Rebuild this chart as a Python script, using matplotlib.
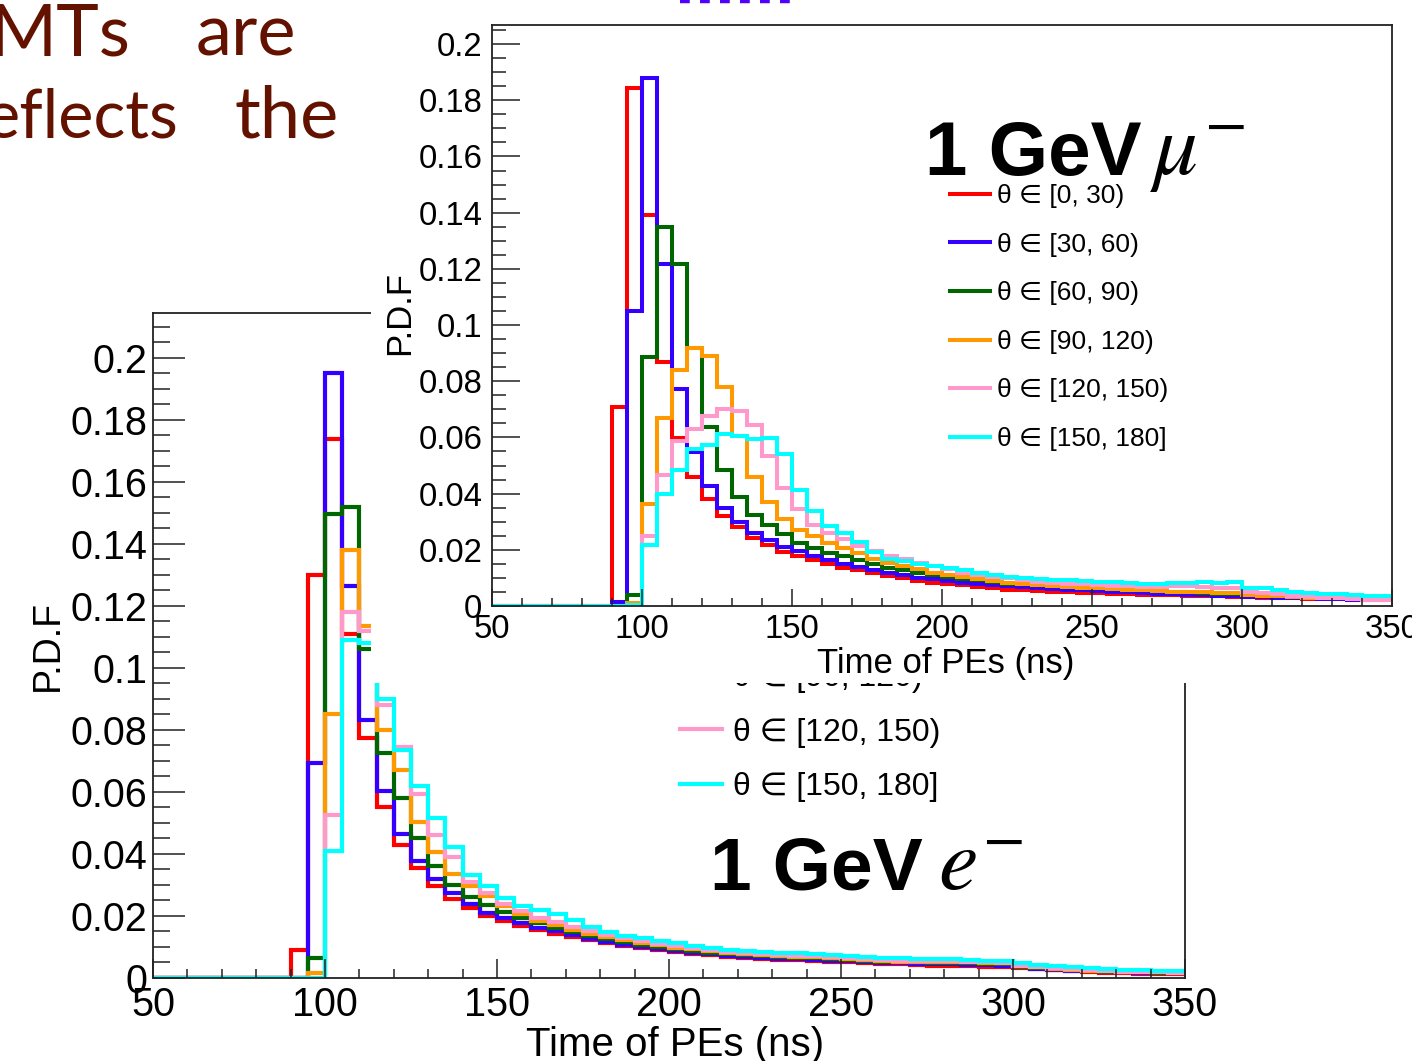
import matplotlib
matplotlib.use('Agg')
import matplotlib.pyplot as plt
import numpy as np
from matplotlib.patches import Rectangle
from matplotlib.lines import Line2D
from matplotlib.ticker import MultipleLocator, FuncFormatter

# --- data: P.D.F of PE times, 5 ns bins, bins 50-90 ns are empty ---
edges = np.arange(50, 355, 5)
first_bin = 90

labels = ['θ ∈ [0, 30)', 'θ ∈ [30, 60)', 'θ ∈ [60, 90)',
          'θ ∈ [90, 120)', 'θ ∈ [120, 150)', 'θ ∈ [150, 180]']
colors = ['#ff0000', '#3300ff', '#006600', '#ff9900', '#ff99cc', '#00ffff']

# 1 GeV mu-  (bins 90-95 ... 345-350)
mu_0_30 = [0.0707, 0.1842, 0.1392, 0.0867, 0.0599, 0.0459, 0.0382, 0.0319, 0.0280, 0.0242,
           0.0217, 0.0193, 0.0177, 0.0162, 0.0148, 0.0136, 0.0127, 0.0116, 0.0106, 0.0098,
           0.0089, 0.0083, 0.0077, 0.0073, 0.0067, 0.0063, 0.0058, 0.0056, 0.0053, 0.0051,
           0.0049, 0.0047, 0.0045, 0.0044, 0.0041, 0.0040, 0.0039, 0.0038, 0.0037, 0.0035,
           0.0034, 0.0033, 0.0031, 0.0030, 0.0028, 0.0027, 0.0026, 0.0025, 0.0024, 0.0022,
           0.0021, 0.0020]
mu_30_60 = [0.0015, 0.1050, 0.1880, 0.1217, 0.0771, 0.0548, 0.0427, 0.0350, 0.0300, 0.0260,
            0.0236, 0.0210, 0.0195, 0.0177, 0.0162, 0.0150, 0.0138, 0.0128, 0.0118, 0.0110,
            0.0101, 0.0095, 0.0089, 0.0083, 0.0077, 0.0073, 0.0070, 0.0066, 0.0063, 0.0060,
            0.0058, 0.0056, 0.0053, 0.0051, 0.0049, 0.0046, 0.0044, 0.0041, 0.0039, 0.0038,
            0.0037, 0.0035, 0.0033, 0.0032, 0.0030, 0.0028, 0.0027, 0.0025, 0.0024, 0.0022,
            0.0021, 0.0020]
mu_60_90 = [0.0, 0.0038, 0.0886, 0.1350, 0.1217, 0.0918, 0.0637, 0.0484, 0.0389, 0.0325,
            0.0287, 0.0255, 0.0225, 0.0205, 0.0189, 0.0177, 0.0162, 0.0148, 0.0136, 0.0127,
            0.0118, 0.0110, 0.0103, 0.0097, 0.0091, 0.0085, 0.0080, 0.0077, 0.0073, 0.0070,
            0.0067, 0.0065, 0.0063, 0.0060, 0.0058, 0.0056, 0.0053, 0.0051, 0.0049, 0.0046,
            0.0044, 0.0043, 0.0039, 0.0037, 0.0034, 0.0032, 0.0031, 0.0030, 0.0028, 0.0027,
            0.0026, 0.0025]
mu_90_120 = [0.0, 0.0010, 0.0363, 0.0670, 0.0840, 0.0918, 0.0890, 0.0778, 0.0605, 0.0459,
             0.0370, 0.0310, 0.0272, 0.0248, 0.0225, 0.0207, 0.0189, 0.0169, 0.0154, 0.0142,
             0.0130, 0.0118, 0.0110, 0.0103, 0.0095, 0.0089, 0.0083, 0.0079, 0.0075, 0.0071,
             0.0069, 0.0065, 0.0063, 0.0060, 0.0058, 0.0056, 0.0053, 0.0051, 0.0050, 0.0049,
             0.0046, 0.0045, 0.0039, 0.0037, 0.0034, 0.0032, 0.0030, 0.0028, 0.0027, 0.0026,
             0.0025, 0.0024]
mu_120_150 = [0.0, 0.0005, 0.0249, 0.0465, 0.0586, 0.0631, 0.0676, 0.0701, 0.0695, 0.0644,
              0.0535, 0.0420, 0.0344, 0.0290, 0.0260, 0.0237, 0.0213, 0.0195, 0.0177, 0.0166,
              0.0154, 0.0142, 0.0130, 0.0118, 0.0112, 0.0103, 0.0098, 0.0091, 0.0086, 0.0083,
              0.0079, 0.0077, 0.0075, 0.0072, 0.0070, 0.0067, 0.0067, 0.0071, 0.0071, 0.0067,
              0.0063, 0.0063, 0.0051, 0.0046, 0.0041, 0.0037, 0.0032, 0.0030, 0.0027, 0.0024,
              0.0022, 0.0020]
mu_150_180 = [0.0, 0.0003, 0.0217, 0.0400, 0.0484, 0.0560, 0.0574, 0.0612, 0.0605, 0.0593,
              0.0599, 0.0540, 0.0414, 0.0337, 0.0284, 0.0260, 0.0228, 0.0193, 0.0169, 0.0160,
              0.0150, 0.0142, 0.0136, 0.0127, 0.0118, 0.0110, 0.0103, 0.0101, 0.0096, 0.0093,
              0.0091, 0.0089, 0.0086, 0.0084, 0.0082, 0.0079, 0.0077, 0.0082, 0.0083, 0.0084,
              0.0083, 0.0085, 0.0065, 0.0063, 0.0056, 0.0051, 0.0047, 0.0044, 0.0041, 0.0039,
              0.0037, 0.0034]

# 1 GeV e-  (bins 90-95 ... 345-350)
e_0_30 = [0.0090, 0.1300, 0.1737, 0.1110, 0.0775, 0.0550, 0.0430, 0.0355, 0.0297, 0.0256,
          0.0227, 0.0200, 0.0183, 0.0168, 0.0155, 0.0143, 0.0132, 0.0122, 0.0112, 0.0104,
          0.0096, 0.0089, 0.0083, 0.0078, 0.0073, 0.0068, 0.0064, 0.0061, 0.0059, 0.0057,
          0.0055, 0.0053, 0.0051, 0.0049, 0.0046, 0.0044, 0.0041, 0.0040, 0.0039, 0.0038,
          0.0036, 0.0035, 0.0031, 0.0028, 0.0026, 0.0024, 0.0020, 0.0016, 0.0015, 0.0014,
          0.0013, 0.0013]
e_30_60 = [0.0, 0.0694, 0.1950, 0.1265, 0.0832, 0.0602, 0.0465, 0.0377, 0.0320, 0.0274,
           0.0239, 0.0210, 0.0192, 0.0176, 0.0162, 0.0150, 0.0138, 0.0127, 0.0117, 0.0108,
           0.0100, 0.0093, 0.0087, 0.0081, 0.0076, 0.0071, 0.0067, 0.0064, 0.0062, 0.0060,
           0.0058, 0.0056, 0.0054, 0.0052, 0.0049, 0.0047, 0.0046, 0.0045, 0.0044, 0.0043,
           0.0041, 0.0040, 0.0034, 0.0030, 0.0027, 0.0024, 0.0021, 0.0019, 0.0018, 0.0017,
           0.0016, 0.0015]
e_60_90 = [0.0, 0.0065, 0.1498, 0.1520, 0.1060, 0.0725, 0.0580, 0.0450, 0.0360, 0.0300,
           0.0260, 0.0235, 0.0212, 0.0192, 0.0176, 0.0160, 0.0148, 0.0136, 0.0126, 0.0116,
           0.0108, 0.0100, 0.0093, 0.0087, 0.0082, 0.0077, 0.0073, 0.0070, 0.0068, 0.0066,
           0.0064, 0.0061, 0.0058, 0.0056, 0.0053, 0.0051, 0.0050, 0.0049, 0.0048, 0.0047,
           0.0045, 0.0044, 0.0036, 0.0032, 0.0028, 0.0025, 0.0022, 0.0020, 0.0019, 0.0018,
           0.0017, 0.0016]
e_90_120 = [0.0, 0.0015, 0.0853, 0.1380, 0.1135, 0.0800, 0.0670, 0.0504, 0.0406, 0.0337,
            0.0297, 0.0265, 0.0232, 0.0208, 0.0185, 0.0170, 0.0156, 0.0143, 0.0132, 0.0122,
            0.0113, 0.0105, 0.0098, 0.0092, 0.0086, 0.0081, 0.0077, 0.0073, 0.0071, 0.0069,
            0.0067, 0.0064, 0.0061, 0.0059, 0.0056, 0.0053, 0.0052, 0.0052, 0.0051, 0.0050,
            0.0049, 0.0048, 0.0038, 0.0034, 0.0030, 0.0027, 0.0024, 0.0022, 0.0020, 0.0019,
            0.0018, 0.0017]
e_120_150 = [0.0, 0.0, 0.0527, 0.1180, 0.1120, 0.0880, 0.0745, 0.0595, 0.0460, 0.0390,
             0.0310, 0.0275, 0.0240, 0.0215, 0.0195, 0.0180, 0.0165, 0.0150, 0.0138, 0.0128,
             0.0119, 0.0110, 0.0103, 0.0097, 0.0090, 0.0085, 0.0080, 0.0077, 0.0074, 0.0072,
             0.0070, 0.0067, 0.0065, 0.0062, 0.0058, 0.0055, 0.0055, 0.0056, 0.0055, 0.0053,
             0.0050, 0.0048, 0.0038, 0.0035, 0.0031, 0.0028, 0.0025, 0.0022, 0.0020, 0.0019,
             0.0018, 0.0017]
e_150_180 = [0.0, 0.0, 0.0410, 0.1090, 0.1080, 0.0900, 0.0735, 0.0620, 0.0516, 0.0423,
             0.0332, 0.0298, 0.0257, 0.0233, 0.0219, 0.0208, 0.0186, 0.0164, 0.0148, 0.0137,
             0.0128, 0.0120, 0.0113, 0.0104, 0.0096, 0.0091, 0.0087, 0.0084, 0.0082, 0.0080,
             0.0077, 0.0074, 0.0071, 0.0068, 0.0066, 0.0063, 0.0062, 0.0062, 0.0060, 0.0058,
             0.0056, 0.0055, 0.0047, 0.0043, 0.0038, 0.0035, 0.0032, 0.0028, 0.0026, 0.0025,
             0.0023, 0.0022]

mu_series = [mu_0_30, mu_30_60, mu_60_90, mu_90_120, mu_120_150, mu_150_180]
e_series = [e_0_30, e_30_60, e_60_90, e_90_120, e_120_150, e_150_180]

plt.rcParams['font.family'] = ['Liberation Sans', 'DejaVu Sans']
plt.rcParams['mathtext.fontset'] = 'stix'

W, H = 1412, 1061
fig = plt.figure(figsize=(W / 100, H / 100), dpi=100)


def px_box(left, top, right, bottom):
    return [left / W, 1 - bottom / H, (right - left) / W, (bottom - top) / H]


def draw_hists(ax, series, lw):
    n_empty = (first_bin - edges[0]) // 5
    for vals, col, lab in zip(series, colors, labels):
        full = np.concatenate([np.zeros(n_empty), vals])
        ax.stairs(full, edges, color=col, lw=lw, label=lab, baseline=None)


def style_axes(ax, ymax, fs, ymaj, ymin, xmaj, xmin, ypad, xpad):
    ax.set_xlim(50, 350)
    ax.set_ylim(0, ymax)
    ax.xaxis.set_major_locator(MultipleLocator(50))
    ax.xaxis.set_minor_locator(MultipleLocator(10))
    ax.yaxis.set_major_locator(MultipleLocator(0.02))
    ax.yaxis.set_minor_locator(MultipleLocator(0.005))
    ax.yaxis.set_major_formatter(FuncFormatter(lambda v, p: '%g' % round(v, 4)))
    ax.xaxis.set_major_formatter(FuncFormatter(lambda v, p: '%g' % v))
    ax.tick_params(which='both', direction='in', top=False, right=False,
                   color='#222222', width=1.1)
    ax.tick_params(axis='y', which='major', length=ymaj, labelsize=fs, pad=ypad)
    ax.tick_params(axis='y', which='minor', length=ymin)
    ax.tick_params(axis='x', which='major', length=xmaj, labelsize=fs, pad=xpad)
    ax.tick_params(axis='x', which='minor', length=xmin)
    for s in ax.spines.values():
        s.set_linewidth(1.3)
        s.set_color('#222222')


# lower panel: 1 GeV e-
ax_e = fig.add_axes(px_box(153, 313, 1185, 978))
ax_e.set_zorder(1)
draw_hists(ax_e, e_series, 3.0)
style_axes(ax_e, 0.2145, 28.5, 23, 12, 14, 6.5, 4, 6)
ax_e.legend(loc='upper left', bbox_to_anchor=(0.5107, 0.722), frameon=False,
            fontsize=23, handlelength=1.32, handletextpad=0.34, labelspacing=0.78,
            borderaxespad=0, borderpad=0)
fig.text(48 / W, 1 - 645 / H, 'P.D.F', rotation=90, ha='center', va='center', fontsize=27)
fig.text(675 / W, 1 - 1045 / H, 'Time of PEs (ns)', ha='center', va='center', fontsize=29)

# white picture of the upper plot laid over the lower one
fig.add_artist(Rectangle((371 / W, 1 - 683 / H), (W - 371) / W, 683 / H,
                         transform=fig.transFigure, facecolor='white',
                         edgecolor='none', zorder=5))

# upper panel: 1 GeV mu-
ax_mu = fig.add_axes(px_box(492, 25, 1392, 606))
ax_mu.set_zorder(10)
draw_hists(ax_mu, mu_series, 2.9)
style_axes(ax_mu, 0.2068, 23.7, 20, 10, 12, 6, 7, 6)
ax_mu.legend(loc='upper left', bbox_to_anchor=(0.509, 0.726), frameon=False,
             fontsize=19, handlelength=1.52, handletextpad=0.26, labelspacing=0.93,
             borderaxespad=0, borderpad=0)
fig.text(400 / W, 1 - 313 / H, 'P.D.F', rotation=90, ha='center', va='center',
         fontsize=25, zorder=20)
fig.text(946 / W, 1 - 663 / H, 'Time of PEs (ns)', ha='center', va='center',
         fontsize=25, zorder=20)

# particle labels
fig.text(925 / W, 1 - 175 / H, '1 GeV', fontsize=55, fontweight='bold',
         ha='left', va='baseline', zorder=20)
fig.text(1150 / W, 1 - 175 / H, r'$\mu^{-}$', fontsize=64, ha='left',
         va='baseline', zorder=20)
fig.text(710 / W, 1 - 890 / H, '1 GeV', fontsize=54, fontweight='bold',
         ha='left', va='baseline', zorder=20)
fig.text(938 / W, 1 - 890 / H, r'$e^{-}$', fontsize=64, ha='left',
         va='baseline', zorder=20)

# slide text around the plots
slide_red = '#641200'
fig.text(130 / W, 1 - 55 / H, 'MTs', color=slide_red, fontsize=52, family='Lato',
         ha='right', va='baseline')
fig.text(196 / W, 1 - 55 / H, 'are', color=slide_red, fontsize=52, family='Lato',
         ha='left', va='baseline')
fig.text(178 / W, 1 - 138 / H, 'eflects', color=slide_red, fontsize=48, family='Lato',
         ha='right', va='baseline')
fig.text(235 / W, 1 - 138 / H, 'the', color=slide_red, fontsize=52, family='Lato',
         ha='left', va='baseline')
fig.add_artist(Line2D([680 / W, 795 / W], [1 - 1 / H, 1 - 1 / H], transform=fig.transFigure,
                      color='#5000ff', lw=3.2, dashes=(2.2, 2.3), zorder=30))

plt.savefig('out.png', dpi=100)
